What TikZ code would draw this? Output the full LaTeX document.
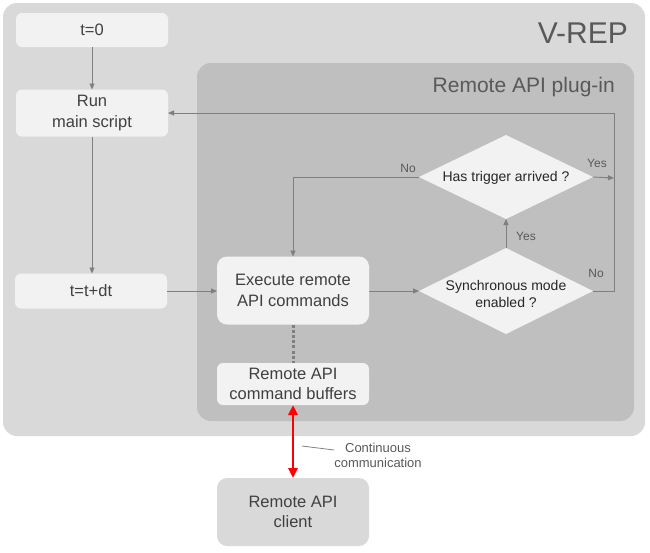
\documentclass[tikz,border=0pt]{standalone}
\usepackage{fontspec}
\setmainfont{Liberation Sans}
\usetikzlibrary{shapes.geometric,arrows.meta,calc}
\definecolor{outerfill}{HTML}{D9D9D9}
\definecolor{innerfill}{HTML}{BFBFBF}
\definecolor{boxfill}{HTML}{F2F2F2}
\definecolor{textc}{HTML}{404040}
\definecolor{linec}{HTML}{7F7F7F}
\definecolor{labc}{HTML}{595959}
\definecolor{redc}{HTML}{FF0000}
\tikzset{
  panel/.style={rounded corners=14pt, fill=#1, draw=none},
  box/.style={rounded corners=6pt, fill=boxfill, text=textc, align=center,
    minimum width=152pt, inner sep=0pt, outer sep=0pt,
    font=\fontsize{16.5}{20.5}\selectfont},
  bigbox/.style={box, rounded corners=10pt},
  dia/.style={diamond, fill=boxfill, draw=none, inner sep=0pt, outer sep=0pt,
    minimum width=174pt},
  diatext/.style={text=black!85, align=center, inner sep=0pt,
    font=\fontsize{14}{17}\selectfont},
  flow/.style={draw=linec, line width=0.9pt, -{Triangle[length=6pt,width=5pt]}},
  plain/.style={draw=linec, line width=0.9pt},
  lab/.style={text=labc, inner sep=0pt, font=\fontsize{12}{14}\selectfont},
  title/.style={text=labc, inner sep=0pt}
}
\begin{document}
\begin{tikzpicture}[x=1pt,y=-1pt]
\useasboundingbox (0,0) rectangle (650,552);
% panels
\path[panel=outerfill] (3,3) rectangle (645,436);
\path[panel=innerfill] (197,63) rectangle (634,421);
\node[title, anchor=base east, font=\fontsize{30}{34}\selectfont] (vrep) at (628,43) {V-REP};
\node[title, anchor=base east, font=\fontsize{21}{25}\selectfont] (plugin) at (615,92) {Remote API plug-in};
% boxes
\node[box, minimum height=34pt] (t0) at (92,30) {t=0};
\node[box, minimum height=47pt] (run) at (92,113) {Run\\main script};
\node[box, minimum height=35pt] (tdt) at (91,291) {t=t+dt};
\node[bigbox, minimum height=68pt] (exec) at (293,290.5) {Execute remote\\API commands};
\node[box, minimum height=42pt] (buf) at (293,384) {Remote API\\command buffers};
\node[bigbox, minimum height=68pt, fill=outerfill] (client) at (293,512) {Remote API\\client};
% diamonds
\node[dia, minimum height=84pt] (trig) at (506,177) {};
\node[diatext] at ($(trig)+(0,1)$) {Has trigger arrived ?};
\node[dia, minimum height=86pt] (sync) at (506,291) {};
\node[diatext] at ($(sync)+(0,3)$) {Synchronous mode\\enabled ?};
% helper coordinates
\coordinate (rx) at (614,291);
\coordinate (yesend) at (614,178);
% connectors
\draw[flow] (t0) -- (run);
\draw[flow] (run.south) -- (run.south |- tdt.north);
\draw[flow] (tdt.east) -- (tdt.east -| exec.west);
\draw[flow] (exec.east |- sync.west) -- (sync.west);
\draw[flow] (sync.north) -- (trig.south);
\draw[flow] (sync.east) -- (rx) -- (rx |- run.east) -- (run.east);
\draw[flow] (trig.east) -- (yesend);
\draw[flow] (trig.west) -| (exec.north);
\draw[draw=linec, line width=3pt, dash pattern=on 3pt off 2.2pt] (exec.south) -- (buf.north);
\draw[draw=redc, line width=2.6pt, {Triangle[length=10pt,width=9pt]}-{Triangle[length=10pt,width=9pt]}] (buf.south) -- (client.north);
% labels
\node[lab] (no1) at (408,168) {No};
\node[lab] (yes1) at (597,163) {Yes};
\node[lab] (yes2) at (526,236) {Yes};
\node[lab] (no2) at (596,273) {No};
% annotation
\node[lab, align=center, font=\fontsize{13}{15}\selectfont] (cc) at (378,455) {Continuous\\communication};
\coordinate (ccl) at (302,446);
\draw[draw=linec, line width=0.8pt] (ccl) -- (cc.west |- 0,450);
\end{tikzpicture}
\end{document}
